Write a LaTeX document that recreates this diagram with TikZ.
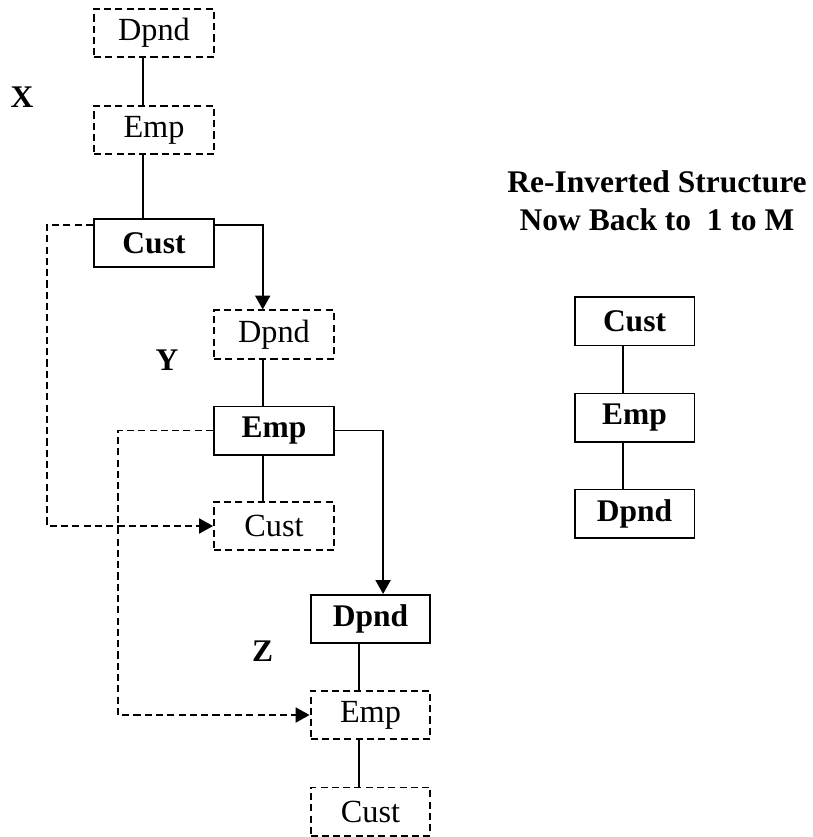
\documentclass[tikz,border=0pt]{standalone}
\usepackage{fontspec}
\setmainfont{Liberation Serif}
\usepackage{tikz}
\usetikzlibrary{arrows.meta,positioning,calc}

\begin{document}
\begin{tikzpicture}[x=0.381pt,y=-0.381pt,line width=0.75pt,
  dashbox/.style={draw,dash pattern=on 2.7pt off 1.6pt,minimum width=45.7pt,minimum height=18.3pt,inner sep=0pt,font=\fontsize{12.3}{14.5}\selectfont},
  boldbox/.style={draw,minimum width=45.7pt,minimum height=18.3pt,inner sep=0pt,font=\fontsize{12}{14.5}\selectfont\bfseries},
  tag/.style={font=\fontsize{12}{14.5}\selectfont\bfseries},
  tip/.style={-{Triangle[length=5.3pt,width=5.7pt]}},
  dasharrow/.style={tip,dash pattern=on 2.7pt off 1.6pt}]
\useasboundingbox (0,0) rectangle (813,837);
% level X
\node[dashbox] (xd) at (154,33) {Dpnd};
\node[dashbox] (xe) at (154,130) {Emp};
\node[boldbox] (xc) at (154,243) {Cust};
\node[tag] (xlab) at (22,97) {X};
% level Y
\node[dashbox] (yd) at (274,334.5) {Dpnd};
\node[boldbox] (ye) at (274,430.5) {Emp};
\node[dashbox] (yc) at (274,526) {Cust};
\node[tag] (ylab) at (167,360) {Y};
% level Z
\node[boldbox] (zd) at (370.5,619) {Dpnd};
\node[dashbox] (ze) at (370.5,715) {Emp};
\node[dashbox] (zc) at (370.5,811.5) {Cust};
\node[tag] (zlab) at (262.5,651) {Z};
% re-inverted
\node[tag,align=center] (title) at (657,201) {Re-Inverted Structure\\Now Back to\ \ 1 to M};
\node[boldbox] (rc) at (634.5,321.5) {Cust};
\node[boldbox] (re) at (634.5,417.5) {Emp};
\node[boldbox] (rd) at (634.5,513.5) {Dpnd};
\foreach \a/\b in {xd/xe,xe/xc,yd/ye,ye/yc,zd/ze,ze/zc,rc/re,re/rd}{\draw ([xshift=-4.3pt]\a.south) -- ([xshift=-4.3pt]\b.north);}
\coordinate (xl) at (47,0);
\coordinate (yl) at (118,0);
\draw[tip] ([yshift=6.9pt]xc.east) -| ([xshift=-4.3pt]yd.north);
\draw[tip] (ye.east) -| ([xshift=4.8pt]zd.north);
\draw[dasharrow] ([yshift=6.9pt]xc.west) -| (xl |- yc.west) -- (yc.west);
\draw[dasharrow] (ye.west) -| (yl |- ze.west) -- (ze.west);
\end{tikzpicture}
\end{document}
